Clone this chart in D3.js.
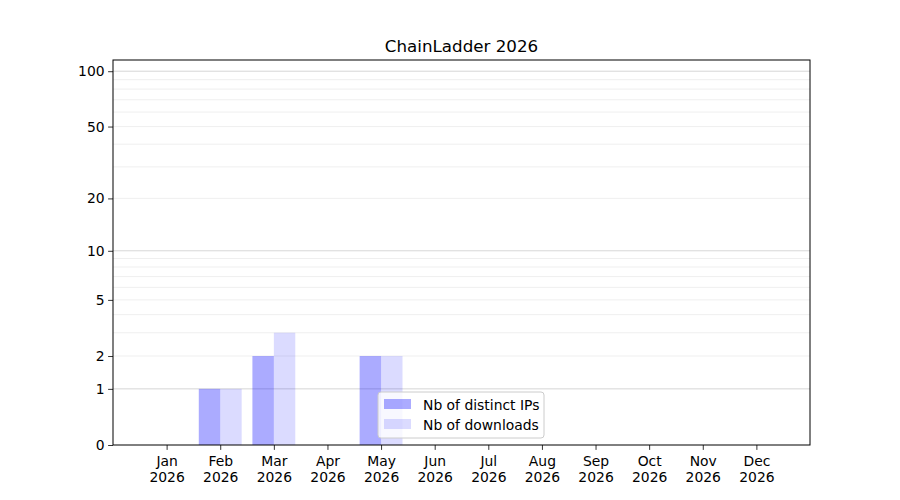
<!doctype html>
<html lang="en">
<head>
  <meta charset="utf-8">
  <title>ChainLadder 2026</title>
  <style>
    body { margin: 0; background: #fff; }
    svg text { font-family: "DejaVu Sans", sans-serif; fill: #000; }
  </style>
</head>
<body>
  <script src="https://cdn.jsdelivr.net/npm/d3@7"></script>
  <script>
    // Data
    const months = ['Jan', 'Feb', 'Mar', 'Apr', 'May', 'Jun', 'Jul', 'Aug', 'Sep', 'Oct', 'Nov', 'Dec'];
    const year = '2026';
    const distinctIPs = [0, 1, 2, 0, 2, 0, 0, 0, 0, 0, 0, 0];
    const downloads = [0, 1, 3, 0, 2, 0, 0, 0, 0, 0, 0, 0];
    const yTicks = [0, 1, 2, 5, 10, 20, 50, 100];
    const majorGrid = [1, 10, 100];
    const minorGrid = [2, 3, 4, 5, 6, 7, 8, 9, 20, 30, 40, 50, 60, 70, 80, 90];

    const w = 900;
    const h = 500;
    const mLeft = 113, mRight = 810, mTop = 60, mBottom = 445;
    const fontSize = '13.9px';

    const svg = d3.select('body')
                  .append('svg')
                  .attr('width', w)
                  .attr('height', h);

    // Scales: month index on x, symlog on y
    const xScale = d3.scaleLinear()
                     .domain([-1, 12])
                     .range([mLeft, mRight]);

    const yScale = d3.scaleSymlog()
                     .constant(1)
                     .domain([0, 115])
                     .range([mBottom, mTop]);

    const barW = xScale(0.4) - xScale(0);

    // Gridlines
    svg.append('g')
       .selectAll('line')
       .data(minorGrid)
       .enter()
       .append('line')
       .attr('x1', mLeft).attr('x2', mRight)
       .attr('y1', (d) => yScale(d)).attr('y2', (d) => yScale(d))
       .attr('stroke', '#ebebeb')
       .attr('stroke-width', 0.8);

    svg.append('g')
       .selectAll('line')
       .data(majorGrid)
       .enter()
       .append('line')
       .attr('x1', mLeft).attr('x2', mRight)
       .attr('y1', (d) => yScale(d)).attr('y2', (d) => yScale(d))
       .attr('stroke', '#cccccc')
       .attr('stroke-width', 0.8);

    // Bars
    svg.append('g')
       .selectAll('rect')
       .data(distinctIPs)
       .enter()
       .append('rect')
       .attr('x', (d, i) => xScale(i) - barW)
       .attr('y', (d) => yScale(d))
       .attr('width', barW)
       .attr('height', (d) => mBottom - yScale(d))
       .attr('fill', 'blue')
       .attr('fill-opacity', 0.33);

    svg.append('g')
       .selectAll('rect')
       .data(downloads)
       .enter()
       .append('rect')
       .attr('x', (d, i) => xScale(i))
       .attr('y', (d) => yScale(d))
       .attr('width', barW)
       .attr('height', (d) => mBottom - yScale(d))
       .attr('fill', 'blue')
       .attr('fill-opacity', 0.14);

    // Axes
    const xAxis = d3.axisBottom(xScale)
                    .tickValues(d3.range(months.length))
                    .tickSize(4.9)
                    .tickPadding(3)
                    .tickFormat('');

    const gx = svg.append('g')
                  .attr('transform', `translate(0, ${mBottom})`)
                  .call(xAxis);
    gx.select('.domain').remove();
    gx.selectAll('.tick line').attr('stroke', '#000').attr('stroke-width', 0.8);
    gx.selectAll('.tick')
      .append('text')
      .attr('text-anchor', 'middle')
      .style('font-size', fontSize)
      .selectAll('tspan')
      .data((d) => [months[d], year])
      .enter()
      .append('tspan')
      .attr('x', 0)
      .attr('y', (d, i) => 21 + i * 15.5)
      .text((d) => d);

    const yAxis = d3.axisLeft(yScale)
                    .tickValues(yTicks)
                    .tickSize(4.9)
                    .tickPadding(3.5)
                    .tickFormat(d3.format('d'));

    const gy = svg.append('g')
                  .attr('transform', `translate(${mLeft}, 0)`)
                  .call(yAxis);
    gy.select('.domain').remove();
    gy.selectAll('.tick line').attr('stroke', '#000').attr('stroke-width', 0.8);
    gy.selectAll('.tick text')
      .style('font-size', fontSize)
      .attr('fill', '#000');

    // Frame
    svg.append('rect')
       .attr('x', mLeft).attr('y', mTop)
       .attr('width', mRight - mLeft).attr('height', mBottom - mTop)
       .attr('fill', 'none')
       .attr('stroke', '#000')
       .attr('stroke-width', 1);

    // Title
    svg.append('text')
       .attr('x', (mLeft + mRight) / 2)
       .attr('y', 52)
       .attr('text-anchor', 'middle')
       .style('font-size', '16.7px')
       .text('ChainLadder 2026');

    // Legend
    const legend = svg.append('g')
                      .attr('transform', 'translate(378, 392)');
    legend.append('rect')
          .attr('width', 166).attr('height', 46)
          .attr('rx', 3)
          .attr('fill', '#fff').attr('fill-opacity', 0.8)
          .attr('stroke', '#cccccc').attr('stroke-width', 1);

    const series = [
      { name: 'Nb of distinct IPs', opacity: 0.33 },
      { name: 'Nb of downloads', opacity: 0.14 }
    ];
    const items = legend.selectAll('g.item')
                        .data(series)
                        .enter()
                        .append('g')
                        .attr('class', 'item')
                        .attr('transform', (d, i) => `translate(6, ${7 + i * 20})`);
    items.append('rect')
         .attr('width', 27).attr('height', 10)
         .attr('fill', 'blue')
         .attr('fill-opacity', (d) => d.opacity);
    items.append('text')
         .attr('x', 39).attr('y', 10.5)
         .style('font-size', fontSize)
         .text((d) => d.name);
  </script>
</body>
</html>
